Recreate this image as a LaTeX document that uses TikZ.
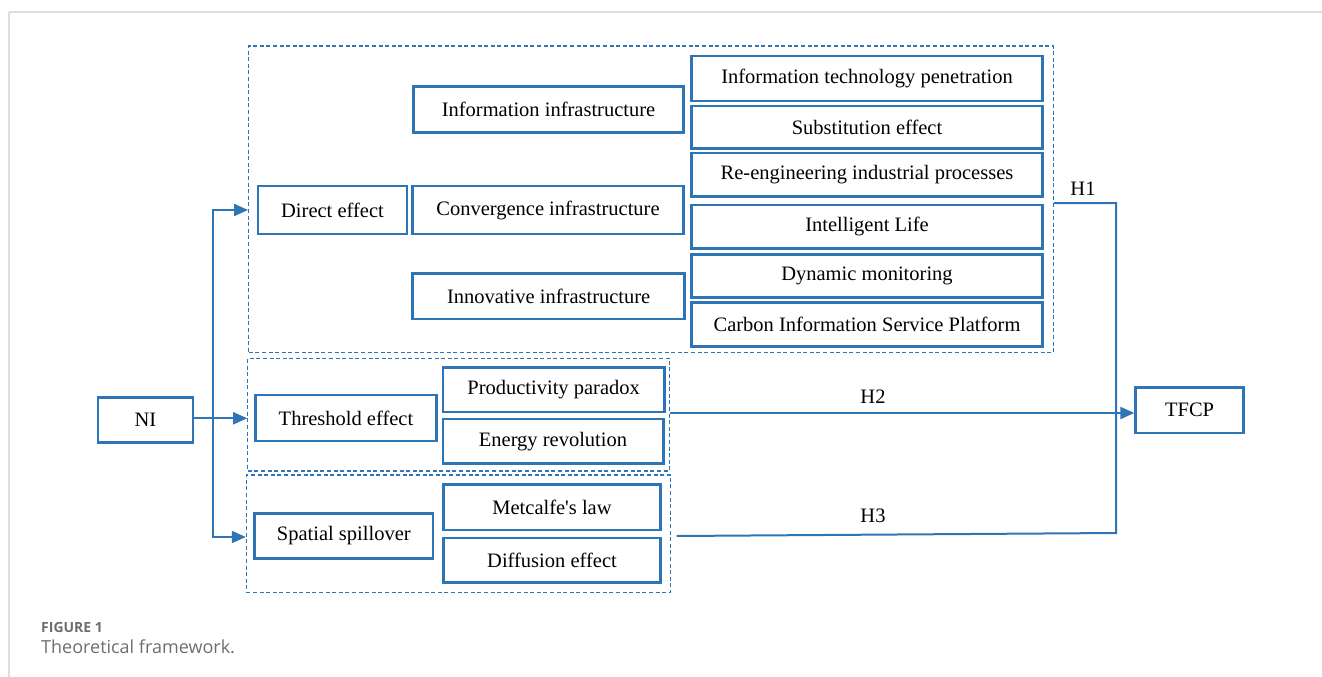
\documentclass[tikz,border=0pt]{standalone}
\usepackage{fontspec}
\setmainfont{Liberation Serif}
\newfontfamily\capfont{Open Sans}
\usetikzlibrary{arrows.meta,calc}
\definecolor{fblue}{RGB}{46,117,182}
\definecolor{capgray}{RGB}{110,110,110}
\definecolor{framegray}{RGB}{222,222,222}
\tikzset{
  box/.style={draw=fblue, line width=2.5pt, inner sep=0pt, align=center,
    font=\fontsize{20.5}{24}\selectfont},
  grp/.style={draw=fblue, line width=1.2pt, dash pattern=on 4pt off 2.6pt, inner sep=0pt},
  conn/.style={draw=fblue, line width=2pt},
  arr/.style={conn, -{Triangle[length=14pt,width=12pt]}},
  hlab/.style={font=\fontsize{20.5}{24}\selectfont, inner sep=0pt},
}
\begin{document}
\begin{tikzpicture}[x=1pt,y=-1pt]
\useasboundingbox (0,0) rectangle (1322,677);
% page frame
\draw[framegray, line width=1.8pt] (9,12) -- (1322,12);
\draw[framegray, line width=1.2pt] (9,12) -- (9,677);

% group frames
\node[grp, minimum width=804.6pt, minimum height=306.7pt] (g1) at (651,199.35) {};
\node[grp, minimum width=421.8pt, minimum height=112.7pt] (g2) at (458.7,414.65) {};
\node[grp, minimum width=424.1pt, minimum height=117.3pt] (g3) at (458.45,533.65) {};

% right column
\node[box, minimum width=351pt, minimum height=45pt] (itp) at (867,78.3) {Information technology penetration};
\node[box, minimum width=351pt, minimum height=42.7pt] (sub) at (867,127.3) {Substitution effect};
\node[box, minimum width=351pt, minimum height=43.3pt] (reeng) at (867,174.7) {Re-engineering industrial processes};
\node[box, minimum width=351pt, minimum height=43.7pt] (intel) at (867,226.8) {Intelligent Life};
\node[box, minimum width=351pt, minimum height=43pt] (dyn) at (867,276.2) {Dynamic monitoring};
\node[box, minimum width=351pt, minimum height=44pt] (carbon) at (867,324.7) {Carbon Information Service Platform};

% middle column
\node[box, minimum width=270pt, minimum height=46pt] (info) at (548.5,109.3) {Information infrastructure};
\node[box, minimum width=271pt, minimum height=48pt] (conv) at (548,210) {Convergence infrastructure};
\node[box, minimum width=272pt, minimum height=45.3pt] (innov) at (548.7,296.3) {Innovative infrastructure};
\node[box, minimum width=149pt, minimum height=48pt] (direct) at (332.5,210) {Direct effect};

\node[box, minimum width=181pt, minimum height=46pt] (thr) at (346,418) {Threshold effect};
\node[box, minimum width=221.4pt, minimum height=44.7pt] (prod) at (553.6,389.7) {Productivity paradox};
\node[box, minimum width=220.5pt, minimum height=44.3pt] (energy) at (553,441.2) {Energy revolution};

\node[box, minimum width=178.5pt, minimum height=45.4pt] (spat) at (343.8,536) {Spatial spillover};
\node[box, minimum width=217.4pt, minimum height=45.3pt] (metc) at (552,507.3) {Metcalfe\textquotesingle s law};
\node[box, minimum width=217.4pt, minimum height=44.7pt] (diff) at (552,560.3) {Diffusion effect};

\node[box, minimum width=94.7pt, minimum height=45pt] (ni) at (145.5,419.8) {NI};
\node[box, minimum width=108pt, minimum height=45.7pt] (tfcp) at (1189.6,410.2) {TFCP};

% connectors from NI
\coordinate (split) at (212.5,418.3);
\draw[arr] (ni.east |- split) -- (split) -- (g2.west |- split);
\draw[arr] (split) |- (g1.west |- direct.west);
\draw[arr] (split) |- (g3.west |- 0,537);

% outcome connectors
\coordinate (h1c) at (1116,203);
\coordinate (h3c) at (1116,533);
\coordinate (h2s) at (670,413);
\coordinate (h3s) at (676.5,536);
\draw[conn] (g1.east |- h1c) -- (h1c) -- (h3c) -- (h3s);
\draw[arr] (h2s) -- (tfcp.west |- h2s);

\node[hlab] (lh1) at (1083,189) {H1};
\node[hlab] (lh2) at (873,397) {H2};
\node[hlab] (lh3) at (873,516) {H3};

% caption
\node[anchor=west, inner sep=0pt, text=capgray, font=\capfont\fontsize{14}{16}\selectfont\bfseries] (fig) at (41,627.3) {FIGURE 1};
\node[anchor=west, inner sep=0pt, text=capgray, font=\capfont\fontsize{18}{21}\selectfont] (cap) at (41,646.5) {Theoretical framework.};
\end{tikzpicture}
\end{document}
